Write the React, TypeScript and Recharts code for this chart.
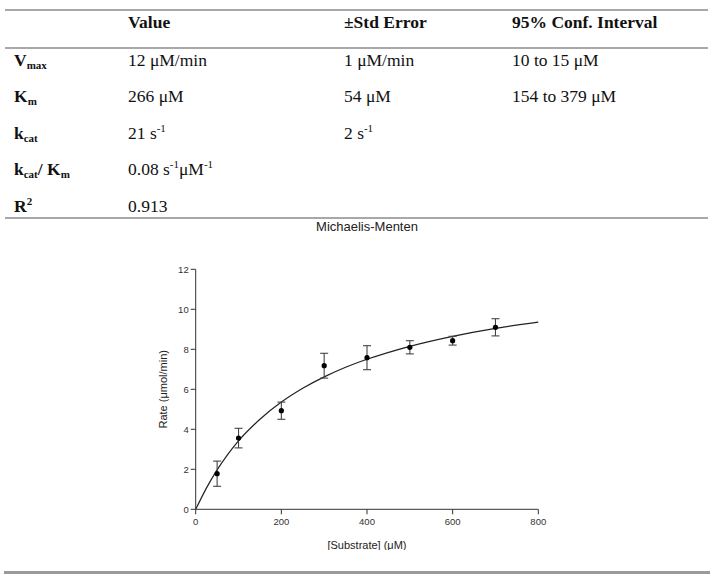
import React from 'react';
import {
  ComposedChart,
  Line,
  Scatter,
  ErrorBar,
  XAxis,
  YAxis,
} from 'recharts';

// measured rates (mean ± error) at each substrate concentration
const substrate = [50, 100, 200, 300, 400, 500, 600, 700];
const rate = [1.78, 3.56, 4.93, 7.18, 7.58, 8.1, 8.43, 9.1];
const rateError = [0.63, 0.49, 0.43, 0.62, 0.6, 0.33, 0.22, 0.43];

// fitted Michaelis-Menten curve
const fitSubstrate = [0, 25, 50, 75, 100, 150, 200, 250, 300, 350, 400, 500, 600, 700, 800];
const fitRate = [0, 1.06, 1.97, 2.75, 3.42, 4.5, 5.36, 6.05, 6.62, 7.1, 7.5, 8.15, 8.65, 9.05, 9.36];

const xTicks = [0, 200, 400, 600, 800];
const yTicks = [0, 2, 4, 6, 8, 10, 12];

// kinetic parameter table
const paramHeaders = ['Value', '±Std Error', '95% Conf. Interval'];
const paramValues = ['12 μM/min', '266 μM', '21 s', '0.08 s', '0.913'];
const paramErrors = ['1 μM/min', '54 μM', '2 s'];
const paramIntervals = ['10 to 15 μM', '154 to 379 μM'];

const points = substrate.map((x, i) => ({ x, y: rate[i], err: rateError[i] }));
const fit = fitSubstrate.map((x, i) => ({ x, y: fitRate[i] }));

const serif = '"Liberation Serif", "Times New Roman", serif';
const sans = '"Liberation Sans", Arial, sans-serif';

const colX = [14, 128, 344, 512];
const rowY = [21.7, 60, 96.4, 132.8, 169.4, 205.8];
const LH = 22;

function Cell({ col, row, bold, children }: any) {
  return (
    <div
      style={{
        position: 'absolute',
        left: colX[col],
        top: rowY[row] - LH / 2,
        height: LH,
        lineHeight: `${LH}px`,
        fontFamily: serif,
        fontSize: 17.5,
        fontWeight: bold ? 700 : 400,
        color: '#111',
        whiteSpace: 'nowrap',
      }}
    >
      {children}
    </div>
  );
}

// sub/superscripts kept at zero line height so rows stay on one baseline
const sub = { fontSize: 11, lineHeight: 0, position: 'relative', top: 3 } as const;
const sup = { fontSize: 11, lineHeight: 0, position: 'relative', top: -7, fontWeight: 400 } as const;
const supBold = { ...sup, fontWeight: 700 } as const;

function Rule({ y, w = 2, color = '#a8a8a8', x1 = 5, x2 = 708 }: any) {
  return (
    <div
      style={{
        position: 'absolute',
        left: x1,
        top: y - w / 2,
        width: x2 - x1,
        height: w,
        background: color,
      }}
    />
  );
}

function Dot(props: any) {
  const { cx, cy } = props;
  if (cx == null || cy == null) return null;
  return <circle cx={cx} cy={cy} r={2.6} fill="#000" />;
}

export default function App() {
  return (
    <div
      style={{
        position: 'absolute',
        left: 0,
        top: 0,
        width: 717,
        height: 574,
        background: '#fff',
        overflow: 'hidden',
      }}
    >
      <Rule y={10} />
      <Rule y={47.7} />
      <Rule y={218} />

      {paramHeaders.map((h, i) => (
        <Cell key={h} col={i + 1} row={0} bold>
          {h}
        </Cell>
      ))}

      <Cell col={0} row={1} bold>
        V<span style={sub}>max</span>
      </Cell>
      <Cell col={0} row={2} bold>
        K<span style={sub}>m</span>
      </Cell>
      <Cell col={0} row={3} bold>
        k<span style={sub}>cat</span>
      </Cell>
      <Cell col={0} row={4} bold>
        k<span style={sub}>cat</span>/ K<span style={sub}>m</span>
      </Cell>
      <Cell col={0} row={5} bold>
        R<span style={supBold}>2</span>
      </Cell>

      <Cell col={1} row={1}>{paramValues[0]}</Cell>
      <Cell col={1} row={2}>{paramValues[1]}</Cell>
      <Cell col={1} row={3}>
        {paramValues[2]}
        <span style={sup}>-1</span>
      </Cell>
      <Cell col={1} row={4}>
        {paramValues[3]}
        <span style={sup}>-1</span>μM<span style={sup}>-1</span>
      </Cell>
      <Cell col={1} row={5}>{paramValues[4]}</Cell>

      <Cell col={2} row={1}>{paramErrors[0]}</Cell>
      <Cell col={2} row={2}>{paramErrors[1]}</Cell>
      <Cell col={2} row={3}>
        {paramErrors[2]}
        <span style={sup}>-1</span>
      </Cell>

      <Cell col={3} row={1}>{paramIntervals[0]}</Cell>
      <Cell col={3} row={2}>{paramIntervals[1]}</Cell>

      <div
        style={{
          position: 'absolute',
          left: 267,
          top: 219,
          width: 200,
          textAlign: 'center',
          fontFamily: sans,
          fontSize: 13,
          lineHeight: '16px',
          color: '#222',
        }}
      >
        Michaelis-Menten
      </div>

      <div style={{ position: 'absolute', left: 140, top: 240 }}>
        <ComposedChart
          width={420}
          height={310}
          margin={{ top: 29.3, right: 21.7, bottom: 0, left: 0 }}
        >
          <XAxis
            type="number"
            dataKey="x"
            domain={[0, 800]}
            ticks={xTicks}
            height={40.7}
            stroke="#333"
            tickSize={5}
            tickMargin={4}
            tick={{ fontSize: 9.5, fill: '#333', fontFamily: sans }}
            label={{
              value: '[Substrate] (μM)',
              position: 'center',
              dy: 15,
              style: { fontSize: 11, fill: '#222', fontFamily: sans },
            }}
          />
          <YAxis
            type="number"
            dataKey="y"
            domain={[0, 12]}
            ticks={yTicks}
            width={55.7}
            stroke="#333"
            tickSize={5}
            tick={{ fontSize: 9.5, fill: '#333', fontFamily: sans }}
            label={{
              value: 'Rate (μmol/min)',
              angle: -90,
              position: 'center',
              dx: -5,
              style: { fontSize: 11, fill: '#222', fontFamily: sans, textAnchor: 'middle' },
            }}
          />
          <Line
            data={fit}
            dataKey="y"
            type="monotone"
            stroke="#222"
            strokeWidth={1.2}
            dot={false}
            activeDot={false}
            isAnimationActive={false}
          />
          <Scatter data={points} dataKey="y" shape={<Dot />} isAnimationActive={false}>
            <ErrorBar dataKey="err" direction="y" width={4} stroke="#444" strokeWidth={1.1} />
          </Scatter>
        </ComposedChart>
      </div>

      <Rule y={572} w={3} color="#9a9a9a" x1={4} x2={710} />
    </div>
  );
}
